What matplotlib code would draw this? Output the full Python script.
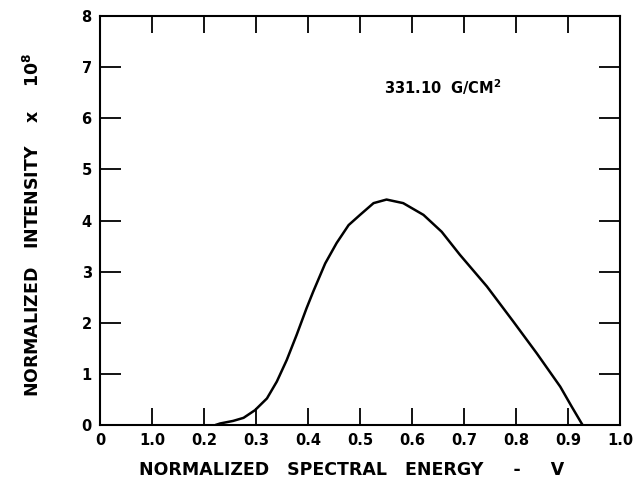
import matplotlib
matplotlib.use("Agg")
import matplotlib.pyplot as plt

# curve
energy = [0.222, 0.231, 0.256, 0.276, 0.298, 0.321, 0.340, 0.359, 0.378, 0.397,
          0.410, 0.433, 0.455, 0.478, 0.500, 0.526, 0.551, 0.583, 0.622, 0.657,
          0.692, 0.744, 0.795, 0.840, 0.885, 0.907, 0.925, 0.928]
intensity = [0.0, 0.03, 0.08, 0.14, 0.29, 0.52, 0.85, 1.27, 1.76, 2.28,
             2.61, 3.16, 3.56, 3.91, 4.11, 4.34, 4.41, 4.34, 4.11, 3.78,
             3.33, 2.71, 2.02, 1.40, 0.75, 0.36, 0.05, 0.0]

x_ticks = [0.0, 0.1, 0.2, 0.3, 0.4, 0.5, 0.6, 0.7, 0.8, 0.9, 1.0]
x_labels = ["0", "1.0", "0.2", "0.3", "0.4", "0.5", "0.6", "0.7", "0.8", "0.9", "1.0"]
y_ticks = [0, 1, 2, 3, 4, 5, 6, 7, 8]
y_labels = ["0", "1", "2", "3", "4", "5", "6", "7", "8"]

plt.rcParams["font.family"] = ["DejaVu Sans"]

fig = plt.figure(figsize=(6.42, 4.84), dpi=100)
ax = fig.add_axes([0.1558, 0.1219, 0.81, 0.845])

ax.plot(energy, intensity, color="black", lw=1.8, solid_capstyle="round",
        solid_joinstyle="round")

ax.set_xlim(0, 1.0)
ax.set_ylim(0, 8)
ax.set_xticks(x_ticks)
ax.set_xticklabels(x_labels, fontsize=10.5, fontweight="bold")
ax.set_yticks(y_ticks)
ax.set_yticklabels(y_labels, fontsize=10.5, fontweight="bold")
ax.tick_params(direction="in", length=12, width=1.3, top=True, right=True, pad=6)
ax.tick_params(axis="y", length=15)
for s in ax.spines.values():
    s.set_linewidth(1.5)

ax.set_xlabel("NORMALIZED   SPECTRAL   ENERGY     -     V", fontsize=12.5,
              fontweight="bold", labelpad=9, x=0.483)
ax.set_ylabel("NORMALIZED   INTENSITY    x    $\\mathbf{10^8}$", fontsize=12.5,
              fontweight="bold", labelpad=28, y=0.49)

ax.text(0.66, 6.6, "331.10  G/CM$\\mathbf{^2}$", fontsize=10.5, fontweight="bold",
        ha="center", va="center")

fig.savefig("out.png", dpi=100)
